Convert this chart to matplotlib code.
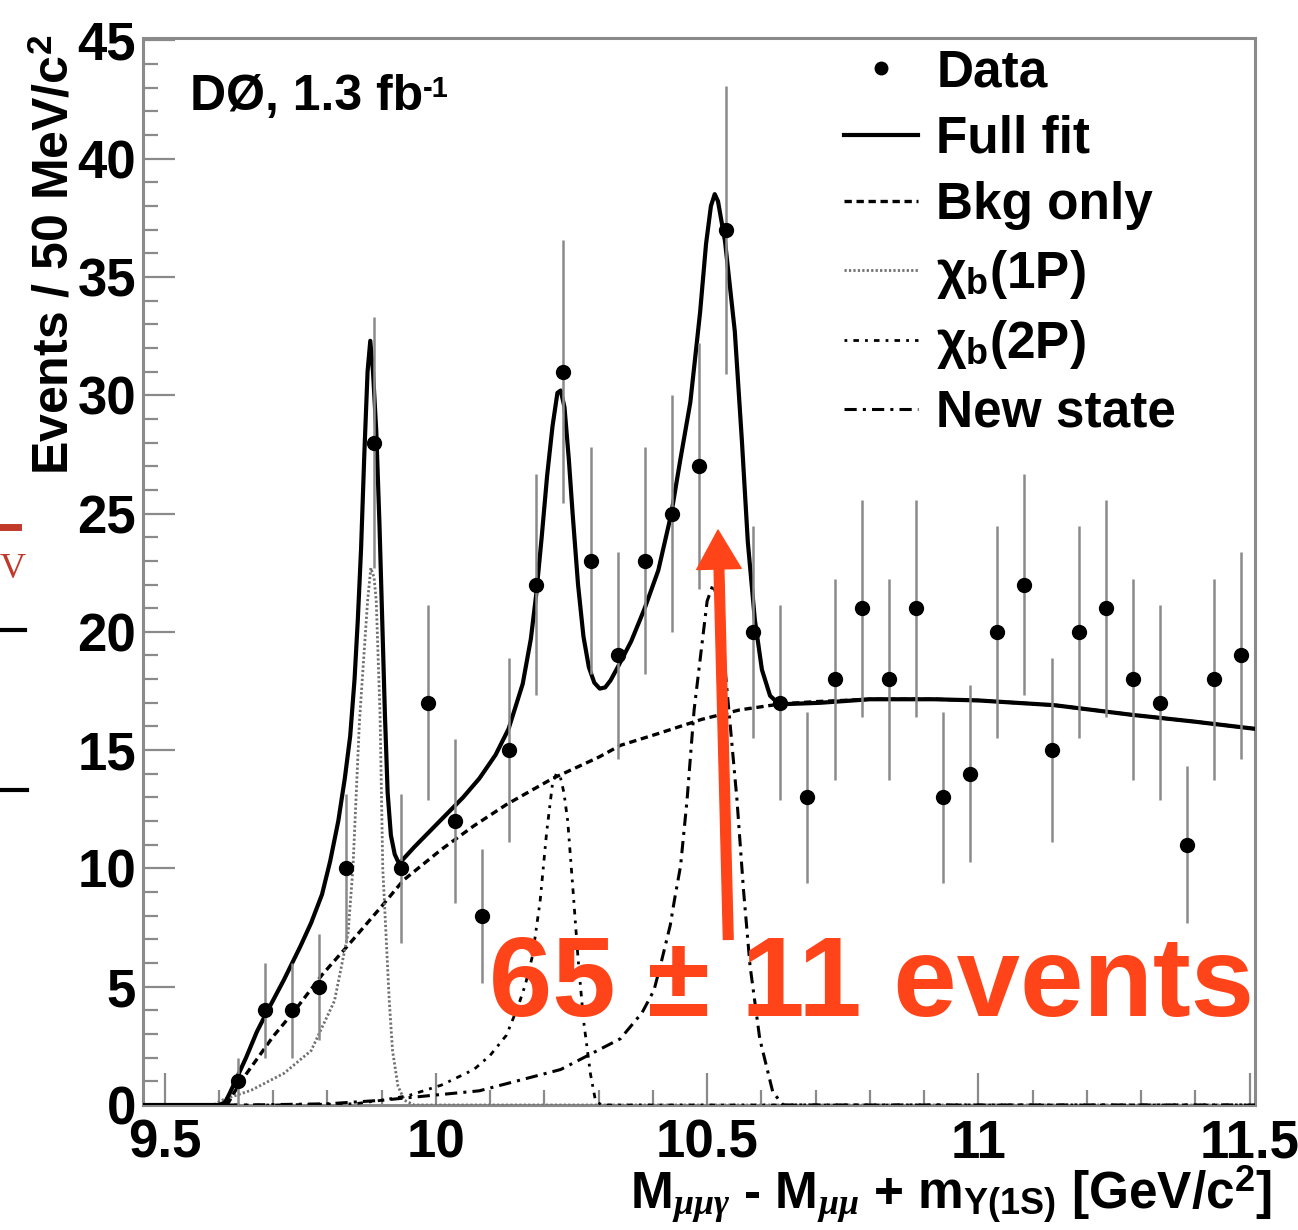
import matplotlib
matplotlib.use("Agg")
import matplotlib.pyplot as plt
import numpy as np
from matplotlib.lines import Line2D
from matplotlib.ticker import MultipleLocator

# D0 chi_b mass difference spectrum with fit components

plt.rcParams["font.family"] = ["Liberation Sans", "DejaVu Sans"]
plt.rcParams["font.weight"] = "bold"
plt.rcParams["mathtext.fontset"] = "custom"
plt.rcParams["mathtext.rm"] = "Liberation Sans:bold"
plt.rcParams["mathtext.bf"] = "Liberation Sans:bold"
plt.rcParams["mathtext.it"] = "Liberation Serif:italic"

# data points (50 MeV bins)
bin_centers = [9.635, 9.685, 9.735, 9.785, 9.835, 9.885, 9.935, 9.985, 10.035, 10.085,
               10.135, 10.185, 10.235, 10.285, 10.335, 10.385, 10.435, 10.485, 10.535, 10.585,
               10.635, 10.685, 10.735, 10.785, 10.835, 10.885, 10.935, 10.985, 11.035, 11.085,
               11.135, 11.185, 11.235, 11.285, 11.335, 11.385, 11.435, 11.485]
counts = [1, 4, 4, 5, 10, 28, 10, 17, 12, 8,
          15, 22, 31, 23, 19, 23, 25, 27, 37, 20,
          17, 13, 18, 21, 18, 21, 13, 14, 20, 22,
          15, 20, 21, 18, 17, 11, 18, 19]

# full fit curve
fit_x = [9.460, 9.600, 9.611, 9.620, 9.650, 9.670, 9.690, 9.720, 9.750, 9.770,
         9.790, 9.805, 9.820, 9.832, 9.842, 9.850, 9.856, 9.862, 9.868, 9.874,
         9.879, 9.884, 9.890, 9.896, 9.901, 9.906, 9.911, 9.917, 9.924, 9.932,
         9.960, 9.990, 10.020, 10.050, 10.080, 10.110, 10.134, 10.160, 10.175, 10.185,
         10.195, 10.205, 10.215, 10.224, 10.230, 10.237, 10.245, 10.252, 10.262, 10.272,
         10.282, 10.292, 10.302, 10.312, 10.322, 10.335, 10.360, 10.385, 10.410, 10.434,
         10.450, 10.469, 10.487, 10.498, 10.507, 10.514, 10.520, 10.533, 10.551, 10.564,
         10.575, 10.588, 10.601, 10.616, 10.630, 10.650, 10.708, 10.800, 10.920, 11.000,
         11.140, 11.280, 11.400, 11.510]
fit_y = [0.0, 0.0, 0.1, 0.5, 2.0, 3.1, 4.0, 5.3, 6.7, 7.7,
         8.9, 10.3, 12.0, 13.8, 15.6, 18.0, 20.5, 23.5, 27.5, 31.0,
         32.3, 31.0, 28.5, 24.5, 20.5, 16.5, 13.2, 11.4, 10.6, 10.2,
         10.9, 11.6, 12.3, 13.0, 13.8, 14.8, 15.9, 17.8, 19.7, 21.6,
         24.0, 26.6, 28.7, 30.1, 30.2, 29.5, 27.3, 25.0, 22.0, 19.8,
         18.5, 17.85, 17.6, 17.65, 17.95, 18.5, 19.6, 21.0, 22.6, 25.0,
         27.2, 29.7, 33.5, 36.4, 38.0, 38.5, 38.2, 36.5, 32.7, 28.1,
         23.8, 20.5, 18.4, 17.3, 17.0, 16.95, 17.0, 17.15, 17.15, 17.1,
         16.9, 16.5, 16.2, 15.9]

# background only
bkg_x = [9.460, 9.615, 9.630, 9.650, 9.700, 9.740, 9.790, 9.840, 9.900, 9.940,
         10.010, 10.070, 10.130, 10.215, 10.300, 10.340, 10.410, 10.490, 10.560, 10.635,
         10.700, 10.800, 10.920, 11.000, 11.140, 11.280, 11.400, 11.510]
bkg_y = [0.0, 0.0, 0.6, 1.3, 2.9, 4.0, 5.5, 6.8, 8.4, 9.5,
         10.8, 11.8, 12.7, 13.8, 14.7, 15.2, 15.7, 16.3, 16.7, 16.95,
         17.05, 17.15, 17.15, 17.1, 16.9, 16.5, 16.2, 15.9]

# chi_b(1P)
p1_x = [9.460, 9.590, 9.605, 9.660, 9.720, 9.770, 9.813, 9.838, 9.847, 9.859,
        9.874, 9.880, 9.886, 9.890, 9.897, 9.902, 9.908, 9.914, 9.920, 9.930,
        9.942, 9.960, 11.510]
p1_y = [0.0, 0.0, 0.2, 0.63, 1.34, 2.3, 4.4, 7.25, 10.0, 16.2,
        21.3, 22.7, 22.3, 21.3, 16.5, 10.0, 7.2, 4.4, 2.3, 0.8,
        0.2, 0.0, 0.0]

# chi_b(2P)
p2_x = [9.460, 9.700, 9.850, 9.900, 9.950, 10.010, 10.070, 10.100, 10.130, 10.152,
        10.165, 10.178, 10.192, 10.204, 10.215, 10.222, 10.229, 10.236, 10.243, 10.253,
        10.262, 10.272, 10.285, 10.294, 10.305, 11.510]
p2_y = [0.0, 0.0, 0.05, 0.2, 0.4, 0.84, 1.5, 2.1, 2.95, 4.2,
        5.1, 6.3, 8.6, 11.5, 13.6, 14.0, 13.9, 13.2, 12.0, 9.0,
        6.2, 3.6, 1.3, 0.2, 0.0, 0.0]

# new state
ns_x = [9.460, 9.650, 9.800, 9.900, 10.080, 10.230, 10.340, 10.380, 10.402, 10.415,
        10.432, 10.440, 10.451, 10.463, 10.476, 10.489, 10.500, 10.511, 10.522, 10.540,
        10.555, 10.567, 10.579, 10.597, 10.621, 10.640, 11.510]
ns_y = [0.0, 0.0, 0.05, 0.2, 0.6, 1.5, 2.8, 3.9, 4.85, 6.0,
        7.6, 8.7, 10.1, 12.9, 16.7, 19.2, 21.3, 22.0, 21.2, 16.7,
        12.9, 9.1, 5.9, 2.8, 0.55, 0.0, 0.0]

legend_labels = ["Data", "Full fit", "Bkg only", r"χ$_{\mathbf{b}}$(1P)",
                 r"χ$_{\mathbf{b}}$(2P)", "New state"]

red = "#ff4419"
grey = "#8a8a8a"

fig = plt.figure(figsize=(12.98, 12.30), dpi=100)
ax = fig.add_axes([143 / 1298, 1 - 1105 / 1230, 1112 / 1298, 1067 / 1230])

bkg_style = dict(color="black", lw=2.4, ls=(0, (2.2, 1.4)))
p1_style = dict(color="#707070", lw=2.0, ls=(0, (0.8, 0.8)))
p2_style = dict(color="black", lw=2.0, ls=(0, (1.0, 2.2, 2.0, 2.2)))
ns_style = dict(color="black", lw=2.2, ls=(0, (4, 2, 1, 2)))
fit_style = dict(color="black", lw=3.0)

ax.plot(bkg_x, bkg_y, zorder=3, **bkg_style)
ax.plot(p1_x, p1_y, zorder=3, **p1_style)
ax.plot(p2_x, p2_y, zorder=3, **p2_style)
ax.plot(ns_x, ns_y, zorder=3, **ns_style)
ax.plot(fit_x, fit_y, zorder=4, **fit_style)

counts_arr = np.array(counts, dtype=float)
ax.errorbar(bin_centers, counts_arr, yerr=np.sqrt(counts_arr), fmt="o", color="black",
            ms=10, ecolor=grey, elinewidth=1.8, capsize=0, zorder=5)

ax.set_xlim(9.46, 11.51)
ax.set_ylim(0, 45.1)

ax.xaxis.set_minor_locator(MultipleLocator(0.1))
ax.yaxis.set_major_locator(MultipleLocator(5))
ax.yaxis.set_minor_locator(MultipleLocator(1))
ax.set_xticks([9.5, 10, 10.5, 11, 11.5])
ax.set_xticklabels(["9.5", "10", "10.5", "11", "11.5"])
ax.tick_params(which="both", direction="in", color=grey, width=1.6, labelsize=38)
ax.tick_params(which="major", length=23)
ax.tick_params(which="minor", length=11)
ax.tick_params(axis="x", pad=10)
ax.tick_params(axis="y", pad=5)
for lab in ax.get_xticklabels() + ax.get_yticklabels():
    lab.set_fontweight("bold")
for sp in ax.spines.values():
    sp.set_color(grey)
    sp.set_linewidth(2.2)

handles = [
    Line2D([], [], marker="o", ls="none", color="black", ms=9),
    Line2D([], [], **fit_style),
    Line2D([], [], **bkg_style),
    Line2D([], [], **p1_style),
    Line2D([], [], **p2_style),
    Line2D([], [], **ns_style),
]
ax.legend(handles, legend_labels, loc="upper left", bbox_to_anchor=(0.598, 1.024),
          frameon=False, fontsize=37, handlelength=1.45, handletextpad=0.35,
          labelspacing=0.34, borderpad=0.2)

lumi = ax.text(0.042, 0.945, "DØ, 1.3 fb", transform=ax.transAxes, fontsize=36,
               fontweight="bold", ha="left", va="center")
ax.annotate("-1", xy=(1.0, 0.98), xycoords=lumi, fontsize=21, fontweight="bold",
            ha="left", va="top")

ax.annotate("", xy=(10.520, 24.3), xytext=(10.539, 7.0),
            arrowprops=dict(width=7, headwidth=32, headlength=28, facecolor=red,
                            edgecolor=red, shrink=0), zorder=6)
ax.text(10.803, 5.0, "65 ± 11 events", color=red, fontsize=82, fontweight="bold",
        ha="center", va="center", zorder=7)

fig.text(55 / 1298, 1 - 35 / 1230, r"Events / 50 MeV/c$^{2}$", rotation=90,
         fontsize=36, fontweight="bold", ha="center", va="top")
fig.text(1272 / 1298, 1 - 1195 / 1230,
         r"M$_{\mu\mu\gamma}$ - M$_{\mu\mu}$ + m$_{\Upsilon\mathrm{(1S)}}$ [GeV/c$^{2}$]",
         fontsize=37, fontweight="bold", ha="right", va="center")

# slide remnants at the left edge
fig.text(13 / 1298, 1 - 570 / 1230, "V", color="#c0392b", fontsize=26,
         family="Liberation Serif", fontweight="normal", ha="center", va="center")
for yy, x1 in [(630, 25), (790, 27)]:
    fig.add_artist(Line2D([0, x1 / 1298], [1 - yy / 1230] * 2, color="black", lw=3,
                          transform=fig.transFigure))
fig.add_artist(Line2D([0, 18 / 1298], [1 - 527 / 1230] * 2, color="#c0392b", lw=5,
                      transform=fig.transFigure))

fig.savefig("out.png", dpi=100)
